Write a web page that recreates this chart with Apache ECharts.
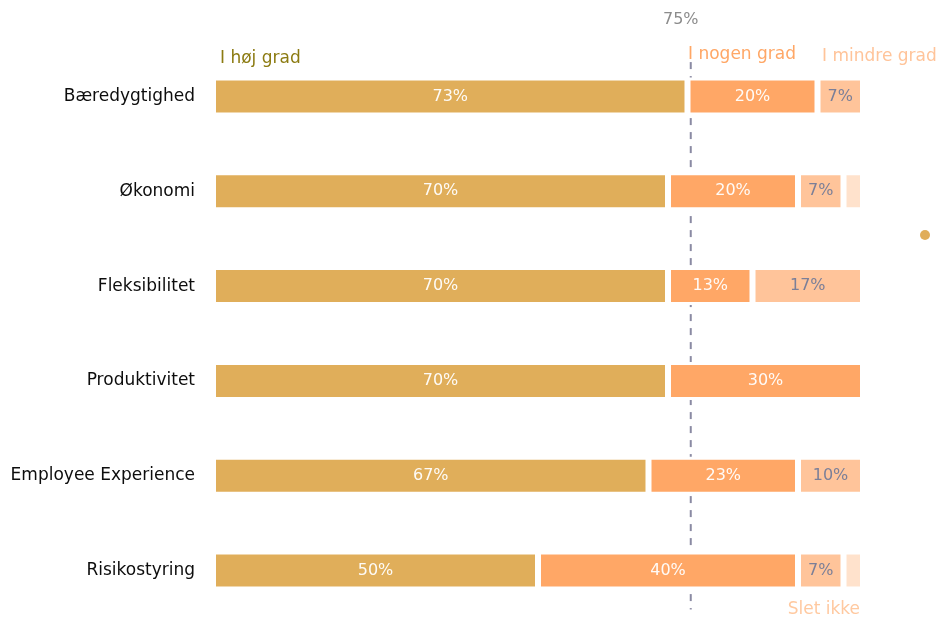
<!DOCTYPE html>
<html>
<head>
<meta charset="utf-8">
<script src="https://cdn.jsdelivr.net/npm/echarts@6/dist/echarts.min.js"></script>
<style>
  html, body { margin: 0; padding: 0; background: #fff; }
  #chart { width: 939px; height: 618px; }
</style>
</head>
<body>
<div id="chart"></div>
<script>
// data
var categories = ['Bæredygtighed', 'Økonomi', 'Fleksibilitet', 'Produktivitet', 'Employee Experience', 'Risikostyring'];
var seriesNames = ['I høj grad', 'I nogen grad', 'I mindre grad', 'Slet ikke'];
var hoejGrad = [73, 70, 70, 70, 67, 50];
var nogenGrad = [20, 20, 13, 30, 23, 40];
var mindreGrad = [7, 7, 17, 0, 10, 7];
var sletIkke = [0, 3, 0, 0, 0, 3];
var refLinePos = 73.5;   // hvor den stiplede linje står på aksen
var refLineLabel = '75%';

var colors = ['#e0ae5a', '#ffa766', '#ffc49a', '#ffe2cc'];
var labelColors = ['rgba(255,255,255,0.95)', 'rgba(255,255,255,0.95)', '#7b7f98', '#7b7f98'];
var values = [hoejGrad, nogenGrad, mindreGrad, sletIkke];

var chart = echarts.init(document.getElementById('chart'));

var series = [];
for (var i = 0; i < values.length; i++) {
    series.push({
        name: seriesNames[i],
        type: 'bar',
        stack: 'total',
        barWidth: 38,
        z: 3,
        data: values[i],
        itemStyle: {
            color: colors[i],
            borderColor: '#fff',
            borderWidth: 3
        },
        label: {
            show: true,
            position: 'inside',
            color: labelColors[i],
            fontFamily: 'DejaVu Sans',
            fontSize: 16,
            formatter: function(p) {
                return p.value >= 5 ? p.value + '%' : '';
            }
        },
        emphasis: { disabled: true }
    });
}

// stiplet linje
series.push({
    type: 'line',
    yAxisIndex: 1,
    z: 1,
    symbol: 'none',
    silent: true,
    data: [[refLinePos, 0.023], [refLinePos, 0.985]],
    lineStyle: { color: '#8a8aa3', width: 2, type: [7, 7] }
});

chart.setOption({
    animation: false,
    grid: { left: 213, right: 76, top: 49, height: 570 },
    xAxis: { type: 'value', min: 0, max: 100, show: false },
    yAxis: [{
        type: 'category',
        data: categories,
        inverse: true,
        axisLine: { show: false },
        axisTick: { show: false },
        axisLabel: {
            color: '#0d0d0d',
            fontFamily: 'DejaVu Sans',
            fontSize: 17,
            margin: 18
        }
    }, {
        type: 'value',
        min: 0,
        max: 1,
        inverse: true,
        show: false
    }],
    series: series,
    graphic: [
        { type: 'text', left: 663, top: 12, style: { text: refLineLabel, fill: '#8c8c8c', font: '16px "DejaVu Sans"' } },
        { type: 'text', left: 220, top: 50, style: { text: seriesNames[0], fill: '#8c7b12', font: '17px "DejaVu Sans"' } },
        { type: 'text', left: 688, top: 46, style: { text: seriesNames[1], fill: '#ffa766', font: '17px "DejaVu Sans"' } },
        { type: 'text', left: 822, top: 48, style: { text: seriesNames[2], fill: '#ffc49a', font: '17px "DejaVu Sans"' } },
        { type: 'text', right: 79, top: 601, style: { text: seriesNames[3], fill: '#ffc9a0', font: '17px "DejaVu Sans"' } },
        { type: 'circle', shape: { cx: 925, cy: 235, r: 5 }, style: { fill: '#e0ad5a' } }
    ]
});
</script>
</body>
</html>
